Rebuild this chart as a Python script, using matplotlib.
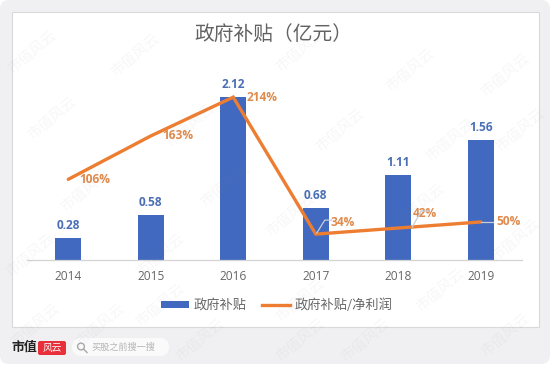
import matplotlib
matplotlib.use('Agg')
import matplotlib.pyplot as plt
from matplotlib.patches import FancyBboxPatch, Rectangle
from matplotlib.lines import Line2D

plt.rcParams['font.family'] = ['Noto Sans CJK SC', 'DejaVu Sans']

years = ['2014', '2015', '2016', '2017', '2018', '2019']
subsidy = [0.28, 0.58, 2.12, 0.68, 1.11, 1.56]
ratio = [106, 163, 214, 34, 42, 50]
subsidy_labels = ['0.28', '0.58', '2.12', '0.68', '1.11', '1.56']
ratio_labels = ['106%', '163%', '214%', '34%', '42%', '50%']
title = '政府补贴（亿元）'
legend_names = ['政府补贴', '政府补贴/净利润']

W, H = 550, 365
BLUE, ORANGE = '#4169bf', '#ed7d31'
NUM_FONT = ['Open Sans', 'Noto Sans CJK SC']
fig = plt.figure(figsize=(W / 100, H / 100), dpi=100, facecolor='white')

# page layer in pixel coordinates
bg = fig.add_axes([0, 0, 1, 1])
bg.set_xlim(0, W); bg.set_ylim(H, 0); bg.axis('off')
bg.add_patch(FancyBboxPatch((0, 0), W, H - 1, boxstyle='round,pad=0,rounding_size=9',
                            fc='#f0f0f2', ec='none'))
bg.add_patch(Rectangle((11.5, 11.5), 527, 315, fc='white', ec='#d9d9d9', lw=0.8))

# data axes, aligned to the plot area of the reference
L, R, T, B = 27, 522, 40, 260
ax = fig.add_axes([L / W, 1 - B / H, (R - L) / W, (B - T) / H])
ax.patch.set_alpha(0)
ax.set_xlim(-0.5, 5.5)
ax.set_ylim(0, (B - T) / 76.9)
ax2 = ax.twinx()
ax2.set_ylim(0, (B - T) / 0.761)
ax2.patch.set_alpha(0)

x = list(range(len(years)))
ax.bar(x, subsidy, width=0.315, color=BLUE, zorder=2)
ax2.plot(x, ratio, color=ORANGE, lw=2.4, solid_joinstyle='miter', solid_capstyle='round', zorder=4)

for a in (ax, ax2):
    for s in ('top', 'left', 'right'):
        a.spines[s].set_visible(False)
    a.set_yticks([])
ax.spines['bottom'].set_color('#d4d4d4')
ax.spines['bottom'].set_linewidth(0.9)
ax2.spines['bottom'].set_visible(False)
ax.set_xticks(x, years, fontsize=8.6, color='#666666', family=NUM_FONT)
ax.tick_params(axis='x', length=0, pad=7)

for xi, v, t in zip(x, subsidy, subsidy_labels):
    ax.annotate(t, (xi, v), xytext=(0, 6), textcoords='offset pixels', ha='center', va='bottom',
                fontsize=8.6, fontweight='bold', color='#4a6fb5', family=NUM_FONT)

ratio_offsets = [(27, 0), (27, 0), (29, 0), (27, 12), (27, 15), (28, 0)]
for xi, v, t, off in zip(x, ratio, ratio_labels, ratio_offsets):
    ax2.annotate(t, (xi, v), xytext=off, textcoords='offset pixels', ha='center', va='center',
                 fontsize=8.6, fontweight='bold', color='#e08a4c', family=NUM_FONT, zorder=5)

# grey leader lines beside the last three labels (pixel offsets from each point)
leaders = {3: [(1, 1), (9, 14), (16, 14)], 4: [(14, 1), (23, 17), (31, 17)], 5: [(0, 0), (12, 0)]}
for i, pts in leaders.items():
    X, Y = ax2.transData.transform((i, ratio[i]))
    fig.add_artist(Line2D([(X + p[0]) / W for p in pts], [(Y + p[1]) / H for p in pts],
                          color='#c9ced6', lw=0.9, zorder=3))

# title
bg.text(273, 34, title, ha='center', va='center', fontsize=14.2, color='#626262')

# legend
fig.legend([Rectangle((0, 0), 1, 1, fc=BLUE), Line2D([0], [0], color=ORANGE, lw=2.4)],
           legend_names, loc='center', bbox_to_anchor=(277 / W, 1 - 305 / H),
           ncol=2, frameon=False, fontsize=9.5, labelcolor='#666666', handlelength=2.1,
           handleheight=0.45, columnspacing=1.2, handletextpad=0.35)

# footer brand
bg.text(11, 347, '市值', fontsize=9.3, fontweight='bold', color='#222222', va='center')
bg.add_patch(FancyBboxPatch((38, 341), 28, 14, boxstyle='round,pad=0,rounding_size=2', fc='#e8303a', ec='none'))
bg.text(52, 347.5, '风云', fontsize=7, color='white', ha='center', va='center', style='italic')
bg.add_patch(FancyBboxPatch((72, 338), 97, 18, boxstyle='round,pad=0,rounding_size=9', fc='#fafafb', ec='none'))
bg.text(92, 347.5, '买股之前搜一搜', fontsize=6.6, color='#b5b5b5', va='center')
bg.add_patch(plt.Circle((81, 346.5), 3.4, fc='none', ec='#a8a8a8', lw=1))
bg.add_artist(Line2D([83.5, 87], [349, 352.5], color='#a8a8a8', lw=1))

# watermarks
marks = [(32, 52), (135, 55), (52, 118), (190, 125), (300, 50), (410, 70), (505, 75),
         (85, 190), (225, 185), (340, 130), (450, 140), (30, 255), (160, 255), (290, 215),
         (420, 205), (520, 130), (35, 325), (160, 305), (300, 300), (440, 290), (300, 340),
         (505, 335), (365, 340), (200, 340), (100, 325), (515, 240)]
for mx, my in marks:
    fig.text(mx / W, 1 - my / H, '市值风云', fontsize=10.5, color='#8a8a96', alpha=0.07,
             rotation=40, ha='center', va='center', zorder=10)

fig.savefig('out.png', dpi=100)
